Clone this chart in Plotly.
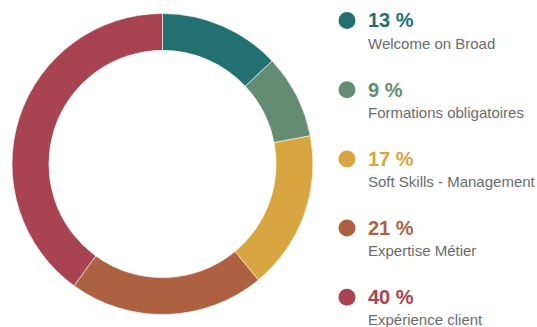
import plotly.graph_objects as go

# Training breakdown by category (percent of total)
categories = ["Welcome on Broad", "Formations obligatoires", "Soft Skills - Management",
              "Expertise Métier", "Expérience client"]
shares = [13, 9, 17, 21, 40]
colors = ["#22706F", "#648C73", "#D9A541", "#AE6141", "#A84352"]

W, H = 537, 327

fig = go.Figure(go.Pie(
    labels=categories,
    values=shares,
    hole=0.755,
    sort=False,
    direction="clockwise",
    rotation=0,
    marker=dict(colors=colors, line=dict(color="white", width=0.6)),
    textinfo="none",
    hoverinfo="label+percent",
    showlegend=False,
    domain=dict(x=[12 / W, 313 / W], y=[(H - 315) / H, (H - 13) / H]),
))

# Custom legend on the right: dot, bold percentage, category name
shapes = []
annotations = []
dot_x, text_x = 347, 366
top, step = 20.5, 69.2
for i, (name, val, col) in enumerate(zip(categories, shares, colors)):
    yc = top + i * step
    r = 8.5
    shapes.append(dict(
        type="circle", xref="paper", yref="paper",
        x0=(dot_x - r) / W, x1=(dot_x + r) / W,
        y0=1 - (yc + r) / H, y1=1 - (yc - r) / H,
        fillcolor=col, line=dict(width=0),
    ))
    annotations.append(dict(
        xref="paper", yref="paper", x=text_x / W, y=1 - yc / H,
        xanchor="left", yanchor="middle", showarrow=False,
        text=f"<b>{val} %</b>",
        font=dict(family="Liberation Sans, Arial, sans-serif", size=20, color=col),
    ))
    annotations.append(dict(
        xref="paper", yref="paper", x=text_x / W, y=1 - (yc + 22.5) / H,
        xanchor="left", yanchor="middle", showarrow=False,
        text=name,
        font=dict(family="Liberation Sans, Arial, sans-serif", size=15, color="#6b6b6b"),
    ))

fig.update_layout(
    width=W, height=H,
    margin=dict(l=0, r=0, t=0, b=0),
    paper_bgcolor="white", plot_bgcolor="white",
    shapes=shapes, annotations=annotations,
)

fig.write_html("out.html")
